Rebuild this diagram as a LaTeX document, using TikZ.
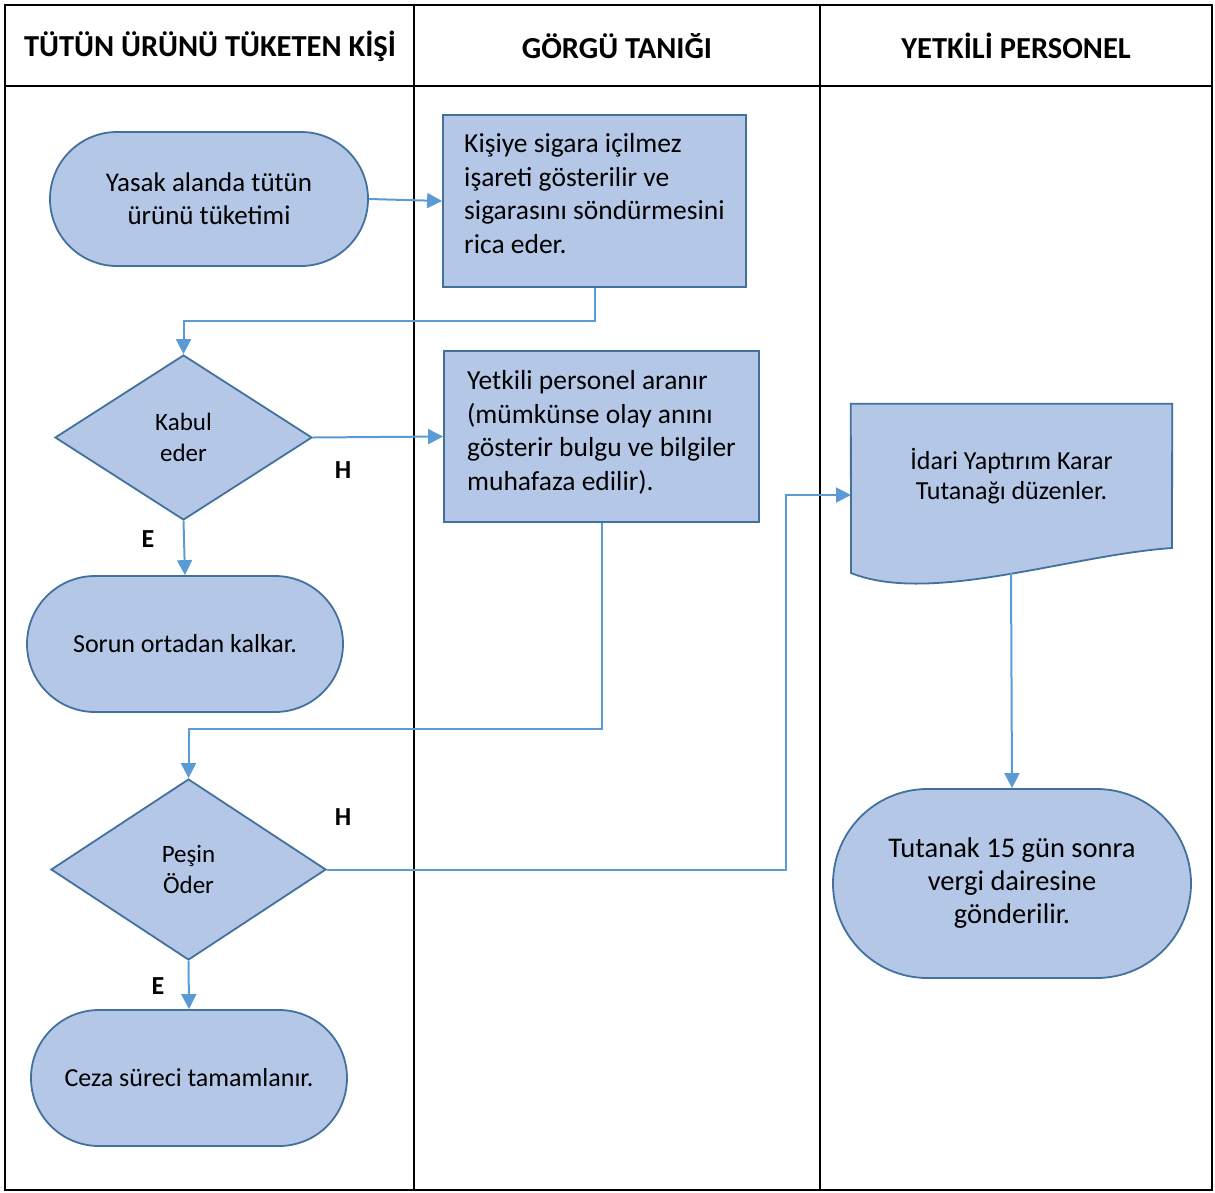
\documentclass[tikz,border=0pt]{standalone}
\usepackage{fontspec}
\setmainfont{Carlito}
\usetikzlibrary{shapes.geometric,shapes.misc,arrows.meta}
\definecolor{shfill}{HTML}{B4C7E7}
\definecolor{shline}{HTML}{41719C}
\definecolor{arline}{HTML}{5B9BD5}
\begin{document}
\begin{tikzpicture}[x=1pt, y=-1pt]
		\tikzset{term/.style={rounded rectangle, draw=shline, fill=shfill, line width=1.8pt, align=center, inner sep=0pt, font=\fontsize{27}{33}\selectfont},
			box/.style={rectangle, draw=shline, fill=shfill, line width=1.8pt, align=left, inner sep=0pt, font=\fontsize{27.5}{33.5}\selectfont},
			dec/.style={diamond, draw=shline, fill=shfill, line width=1.8pt, align=center, inner sep=0pt, font=\fontsize{25}{31}\selectfont},
			arr/.style={draw=arline, line width=2pt, -{Triangle[length=15pt, width=15pt]}},
			lbl/.style={font=\fontsize{26}{26}\selectfont\bfseries},
			hdr/.style={font=\fontsize{30.5}{30}\selectfont\bfseries}};

		\useasboundingbox (0, 0) rectangle (1215, 1192);

		% lanes
		\draw[line width=2pt] (5, 5) rectangle (1212, 1190);
		\draw[line width=2pt] (5, 86) -- (1212, 86);
		\draw[line width=2pt] (414, 5) -- (414, 1190);
		\draw[line width=2pt] (820, 5) -- (820, 1190);

		\node[hdr] (h1) at (210, 46) {TÜTÜN ÜRÜNÜ TÜKETEN KİŞİ};
		\node[hdr] (h2) at (617, 46) {GÖRGÜ TANIĞI};
		\node[hdr] (h3) at (1016, 46) {YETKİLİ PERSONEL};

		% shapes
		\node[term, minimum width=318, minimum height=134] (t1) at (209, 199) {Yasak alanda tütün\\ürünü tüketimi};
		\node[box, minimum width=303, minimum height=172] (b2) at (594.5, 201) {Kişiye sigara içilmez\\işareti gösterilir ve\\sigarasını söndürmesini\\rica eder.\\[-18pt]};
		\node[dec, minimum width=257, minimum height=165] (d1) at (183.5, 437.5) {Kabul\\eder};
		\node[box, minimum width=315, minimum height=171] (b4) at (601.5, 436.5) {Yetkili personel aranır\\(mümkünse olay anını\\gösterir bulgu ve bilgiler\\muhafaza edilir).\\[-21pt]};
		\node[term, font=\fontsize{26}{33}\selectfont, minimum width=316, minimum height=136] (t5) at (185, 644) {Sorun ortadan kalkar.};
		\node[dec, minimum width=275, minimum height=181] (d2) at (188.5, 869.5) {Peşin\\Öder};
		\node[term, font=\fontsize{26}{33}\selectfont, minimum width=316, minimum height=136] (t7) at (189, 1078) {Ceza süreci tamamlanır.};
		\node[term, font=\fontsize{28.5}{33}\selectfont, minimum width=358, minimum height=189] (t9) at (1012, 883.5) {Tutanak 15 gün sonra\\vergi dairesine\\gönderilir.};

		% document shape
		\node[minimum width=321, minimum height=144, inner sep=0pt] (doc) at (1011.5, 476) {};
		\draw[shline, fill=shfill, line width=1.8pt] (doc.north west) -- (doc.north east) -- (1172, 548) .. controls (1070, 555) and (930, 605) .. (851, 573) -- cycle;
		\node[align=center, font=\fontsize{26}{30}\selectfont] (doct) at (doc) {İdari Yaptırım Karar\\Tutanağı düzenler.};
		\coordinate (docw) at (851, 495);
		\coordinate (docb) at (1011, 573);

		% connectors
		\draw[arr] (t1.east) -- (b2.west);
		\draw[arr] (b2.south) -- ++(0, 33) -| (d1.north);
		\draw[arr] (d1.east) -- (b4.west);
		\draw[arr] (d1.south) -- (t5.north);
		\draw[arr] (b4.south) -- ++(0, 206) -| (d2.north);
		\draw[arr] (d2.east) -- ++(459, 0) |- (docw);
		\draw[arr] (d2.south) -- (t7.north);
		\draw[arr] (docb) -- (t9.north);

		\node[lbl] (h1l) at (343, 470) {H};
		\node[lbl] (e1l) at (148, 539) {E};
		\node[lbl] (h2l) at (343, 817) {H};
		\node[lbl] (e2l) at (158, 986) {E};
	\end{tikzpicture}
\end{document}
